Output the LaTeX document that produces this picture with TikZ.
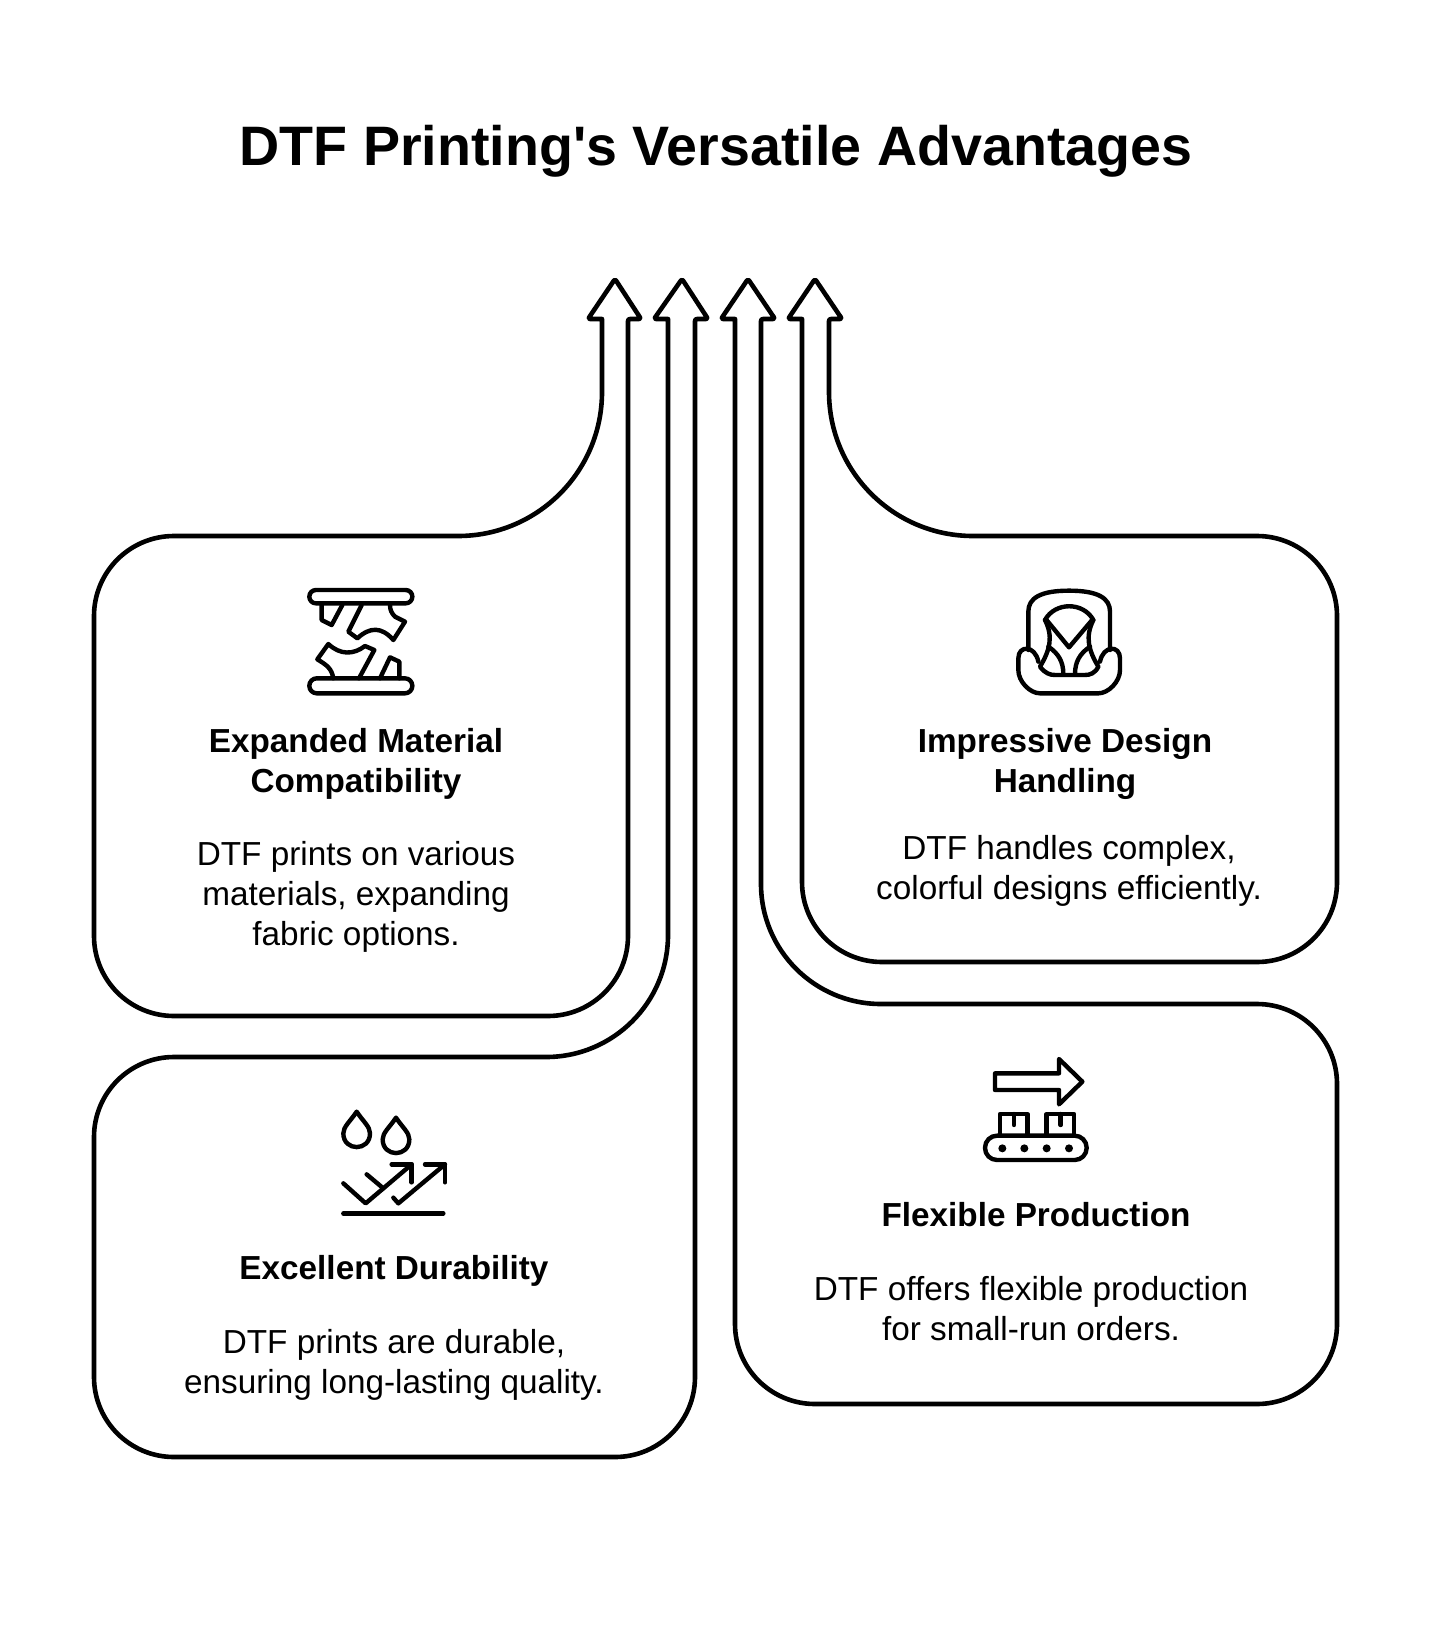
\documentclass[tikz,border=0pt]{standalone}
\usepackage{fontspec}
\setmainfont{Liberation Sans}
\tikzset{>=latex}
\begin{document}
\begin{tikzpicture}[x=0.5pt,y=-0.5pt]
    \tikzstyle{every node}=[align=center, inner sep=0pt]
    \tikzstyle{outline}=[black, line width=2.3pt, line join=round, rounded corners=1pt]
    \tikzstyle{icon}=[black, line width=2.2pt, line join=round, line cap=round]
    \tikzstyle{headtext}=[font=\fontsize{16.65}{20}\selectfont\bfseries]
    \tikzstyle{bodytext}=[font=\fontsize{16.65}{20}\selectfont]
    \useasboundingbox (0,0) rectangle (1430,1631);

    \node[font=\fontsize{27.8}{30}\selectfont\bfseries] (title) at (716,151) {DTF Printing\textquotesingle s Versatile Advantages};

    % arrows with their boxes
    \draw[outline] (602,319) -- (588,319) -- (615,279) -- (641,319) -- (628,319) [rounded corners=40pt] -- (628,1016) -- (94,1016) -- (94,536)
        [rounded corners=72pt] -- (602,536) [sharp corners] -- cycle;
    \draw[outline] (668,319) -- (654,319) -- (682,279) -- (708,319) -- (695,319) [rounded corners=40pt] -- (695,1457) -- (94,1457) -- (94,1057)
        [rounded corners=61pt] -- (668,1057) [sharp corners] -- cycle;
    \draw[outline] (735,319) -- (721,319) -- (748,279) -- (775,319) -- (761,319) [rounded corners=60pt] -- (761,1004)
        [rounded corners=40pt] -- (1337,1004) -- (1337,1404) -- (735,1404) [sharp corners] -- cycle;
    \draw[outline] (802,319) -- (788,319) -- (815,279) -- (842,319) -- (829,319) [rounded corners=72pt] -- (829,536)
        [rounded corners=40pt] -- (1337,536) -- (1337,962) -- (802,962) [sharp corners] -- cycle;

    % texts
    \node[headtext] (expandedhead) at (356,764) {Expanded Material\\Compatibility};
    \node[bodytext] (expandedbody) at (356,897) {DTF prints on various\\materials, expanding\\fabric options.};
    \node[headtext] (durabilityhead) at (394,1271) {Excellent Durability};
    \node[bodytext] (durabilitybody) at (394,1365) {DTF prints are durable,\\ensuring long-lasting quality.};
    \node[headtext] (flexiblehead) at (1036,1215) {Flexible Production};
    \node[bodytext] (flexiblebody) at (1031,1309) {DTF offers flexible production\\for small-run orders.};
    \node[headtext] (designhead) at (1065,764) {Impressive Design\\Handling};
    \node[bodytext] (designbody) at (1069,871) {DTF handles complex,\\colorful designs efficiently.};

    % fabric icon
    \begin{scope}[shift={(280,570)},scale=1/3]
        \draw[icon,rounded corners=3.3pt] (88,60) rectangle (397,100);
        \draw[icon,rounded corners=3.7pt] (88,325) rectangle (397,370);
        \draw[icon] (125,105) -- (125,150) -- (155,165) -- (187,105);
        \draw[icon] (245,105) -- (205,185) -- (232,205) .. controls (270,170) and (305,170) .. (340,210) -- (375,155) -- (345,140) .. controls (335,130) and (330,120) .. (330,105);
        \draw[icon] (160,325) .. controls (155,295) and (140,285) .. (112,268) -- (145,222) .. controls (180,255) and (220,255) .. (255,228) -- (283,240) -- (237,325);
        \draw[icon] (300,325) -- (330,262) -- (358,275) -- (358,325);
    \end{scope}

    % seat icon
    \begin{scope}[shift={(990,570)},scale=1/3]
        \draw[icon] (115,240) -- (115,125) .. controls (115,85) and (150,62) .. (237,62) .. controls (325,62) and (360,85) .. (360,125) -- (360,240);
        \draw[icon] (145,275) .. controls (135,225) and (85,225) .. (85,265) -- (85,300) .. controls (85,335) and (120,370) .. (150,370) -- (325,370) .. controls (355,370) and (390,335) .. (390,300) -- (390,265) .. controls (390,225) and (340,225) .. (330,275);
        \draw[icon] (165,150) .. controls (195,95) and (280,95) .. (310,150);
        \draw[icon] (165,150) .. controls (190,200) and (180,240) .. (150,290) .. controls (165,310) and (180,315) .. (195,315) -- (285,315) .. controls (300,315) and (315,310) .. (325,290) .. controls (295,240) and (285,200) .. (310,150);
        \draw[icon] (168,148) -- (237,232) -- (308,148);
        \draw[icon] (175,230) .. controls (205,250) and (220,275) .. (220,312);
        \draw[icon] (300,230) .. controls (270,250) and (255,275) .. (255,312);
    \end{scope}

    % drops icon
    \begin{scope}[shift={(320,1095)},scale=1/3]
        \draw[icon] (110,50) .. controls (130,80) and (150,95) .. (150,115) .. controls (150,170) and (70,170) .. (70,115) .. controls (70,95) and (90,80) .. (110,50) -- cycle;
        \draw[icon] (228,68) .. controls (248,98) and (268,113) .. (268,133) .. controls (268,188) and (188,188) .. (188,133) .. controls (188,113) and (208,98) .. (228,68) -- cycle;
        \draw[icon] (70,265) -- (137,325) -- (275,208);
        \draw[icon] (215,208) -- (275,208) -- (275,262);
        \draw[icon] (140,238) -- (190,280);
        \draw[icon] (220,308) -- (235,325) -- (375,208);
        \draw[icon] (315,208) -- (375,208) -- (375,262);
        \draw[icon] (70,355) -- (370,355);
    \end{scope}

    % belt icon
    \begin{scope}[shift={(965,1045)},scale=1/3]
        \draw[icon] (90,85) -- (282,85) -- (282,42) -- (352,110) -- (282,178) -- (282,135) -- (90,135) -- cycle;
        \draw[icon] (105,272) -- (105,207) -- (187,207) -- (187,272);
        \draw[icon] (245,272) -- (245,207) -- (327,207) -- (327,272);
        \draw[icon] (147,207) -- (147,240);
        \draw[icon] (287,207) -- (287,240);
        \draw[icon,rounded corners=6pt] (60,272) rectangle (365,345);
        \foreach \x in {112,178,245,312}
            \fill (\x,310) circle (6pt);
    \end{scope}
\end{tikzpicture}
\end{document}
